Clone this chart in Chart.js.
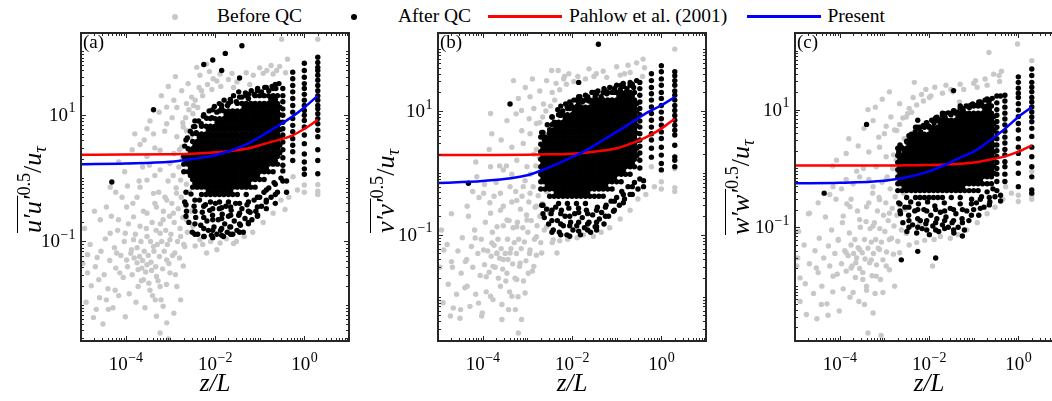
<!DOCTYPE html>
<html><head><meta charset="utf-8">
<script src="https://cdn.jsdelivr.net/npm/chart.js@4.4.1/dist/chart.umd.min.js"></script>
<style>
html,body{margin:0;padding:0;width:1052px;height:401px;overflow:hidden;background:#fff;}
.cv{position:absolute;top:0;}
.t{position:absolute;font-family:'Liberation Serif','Times New Roman',serif;color:#000;white-space:nowrap;line-height:1;}
.leg{font-size:19.5px;top:6px;}
.dot{position:absolute;width:6px;height:6px;border-radius:50%;}
.seg{position:absolute;height:3px;top:15px;width:74px;}
.pl{font-size:19px;top:32px;}
.yl{font-size:26px;font-style:italic;transform-origin:0 0;transform:rotate(-90deg);}
.yl .ov{text-decoration:overline;text-decoration-thickness:1.3px;}
.yl .sp{font-size:0.7em;font-style:normal;position:relative;top:-0.62em;}
.yl .sb{font-size:0.7em;position:relative;top:0.3em;}
.yl .n{font-style:normal;}
</style></head><body>
<div class="dot" style="left:171.5px;top:13.5px;background:#c8c8c8"></div>
<div class="t leg" style="left:217px">Before QC</div>
<div class="dot" style="left:350.7px;top:13.5px;background:#000"></div>
<div class="t leg" style="left:398px">After QC</div>
<div class="seg" style="left:488px;background:#ff0000"></div>
<div class="t leg" style="left:569px">Pahlow et al. (2001)</div>
<div class="seg" style="left:747px;background:#0000ff"></div>
<div class="t leg" style="left:827.5px">Present</div>

<canvas id="cA" class="cv"></canvas>
<canvas id="cB" class="cv"></canvas>
<canvas id="cC" class="cv"></canvas>

<div class="t pl" style="left:83px">(a)</div>
<div class="t pl" style="left:440px">(b)</div>
<div class="t pl" style="left:797px">(c)</div>

<div class="t yl" style="left:20px;top:233px"><span class="ov">u′u′</span><span class="sp">0.5</span><span class="n">/</span>u<span class="sb">τ</span></div>
<div class="t yl" style="left:373px;top:233px"><span class="ov">v′v′</span><span class="sp">0.5</span><span class="n">/</span>u<span class="sb">τ</span></div>
<div class="t yl" style="left:728px;top:235px"><span class="ov">w′w′</span><span class="sp">0.5</span><span class="n">/</span>u<span class="sb">τ</span></div>

<script>
// ---------- data ----------
const xTickVals = [1e-4, 1e-2, 1];
const yTickVals = [0.1, 10];

// model curves, sampled at these z/L values
const zL = [1e-5, 1e-4, 1e-3, 3e-3, 0.01, 0.02, 0.05, 0.1, 0.2, 0.5, 1, 2];
const pahlowA  = [2.34, 2.35, 2.38, 2.42, 2.55, 2.65, 2.9, 3.3, 3.8, 4.6, 6.0, 8.3];
const presentA = [1.66, 1.70, 1.81, 2.0, 2.3, 2.65, 3.4, 4.45, 6.0, 9.0, 13, 20];
const pahlowB  = [1.94, 1.95, 1.97, 2.0, 2.05, 2.12, 2.3, 2.5, 2.95, 3.9, 5.2, 7.5];
const presentB = [0.69, 0.74, 0.92, 1.22, 1.8, 2.3, 3.4, 4.6, 6.3, 9.6, 12.4, 16.8];
const pahlowC  = [1.12, 1.12, 1.12, 1.13, 1.14, 1.16, 1.2, 1.26, 1.38, 1.6, 1.93, 2.46];
const presentC = [0.56, 0.57, 0.62, 0.70, 0.89, 1.1, 1.53, 1.93, 2.75, 4.7, 7.5, 11];

// After QC: each row is [z/L, y1, y2, ...]
const afterQC_a = [
[2,81,67,56,50,42,35,29,24,20,17,14,12.4,10.4,8.7,7.2,5.7,4.5,2.8,1.9,1.17],
[1,65,50,39,31,26,21,17,14,11.7,9.8,8.1,6.4,4.8,3.5,2.4,1.8,1.4,1.15],
[0.55,47,37,29,23,18,14,11,8.7,6.8,5.4,4.2,3.3,2.6,1.9],
[0.33,26,20,16,12.4,9.8,7.6,6.0,4.8,3.7,2.8,2.1,1.6,1.3,0.9],
[0.002,1.26,1.66,2.2],
[0.00224,1.9],
[0.0025,1.26,1.66,2.2,2.9],
[0.00282,1.1,1.45,1.9,2.5],
[0.00316,0.72,0.95,1.26,1.66,2.2,2.9,3.8,5.0],
[0.00355,0.83,1.1,1.45,1.9,2.5,3.3],
[0.004,0.72,0.95,1.26,1.66,2.2,2.9,3.8,5.0],
[0.00447,0.83,1.1,1.45,1.9,2.5,3.3,4.4],
[0.005,0.55,0.72,0.95,1.26,1.66,2.2,2.9,3.8,5.0,6.6],
[0.00562,0.83,1.1,1.45,1.9,2.5,3.3,4.4],
[0.0063,0.55,0.72,0.95,1.26,1.66,2.2,2.9,3.8,5.0,6.6],
[0.00708,0.63,0.83,1.1,1.45,1.9,2.5,3.3,4.4,5.8],
[0.0079,0.42,0.55,0.72,0.95,1.26,1.66,2.2,2.9,3.8,5.0,6.6,8.7],
[0.0089,0.63,0.83,1.1,1.45,1.9,2.5,3.3,4.4,5.8],
[0.01,0.55,0.72,0.95,1.26,1.66,2.2,2.9,3.8,5.0,6.6,8.7],
[0.0112,0.63,0.83,1.1,1.45,1.9,2.5,3.3,4.4,5.8,7.6],
[0.0126,0.42,0.55,0.72,0.95,1.26,1.66,2.2,2.9,3.8,5.0,6.6,8.7,11.5],
[0.0141,0.63,0.83,1.1,1.45,1.9,2.5,3.3,4.4,5.8,7.6],
[0.0158,0.55,0.72,0.95,1.26,1.66,2.2,2.9,3.8,5.0,6.6,8.7,11.5],
[0.0178,0.63,0.83,1.1,1.45,1.9,2.5,3.3,4.4,5.8,7.6,10],
[0.02,0.42,0.55,0.72,0.95,1.26,1.66,2.2,2.9,3.8,5.0,6.6,8.7,11.5,15.1],
[0.0224,0.63,0.83,1.1,1.45,1.9,2.5,3.3,4.4,5.8,7.6,10],
[0.025,0.55,0.72,0.95,1.26,1.66,2.2,2.9,3.8,5.0,6.6,8.7,11.5],
[0.0282,0.83,1.1,1.45,1.9,2.5,3.3,4.4,5.8,7.6,10],
[0.0316,0.55,0.72,0.95,1.26,1.66,2.2,2.9,3.8,5.0,6.6,8.7,11.5,15.1],
[0.0355,0.83,1.1,1.45,1.9,2.5,3.3,4.4,5.8,7.6,10],
[0.04,0.72,0.95,1.26,1.66,2.2,2.9,3.8,5.0,6.6,8.7,11.5,15.1],
[0.0447,0.83,1.1,1.45,1.9,2.5,3.3,4.4,5.8,7.6,10,13.2],
[0.05,0.55,0.72,0.95,1.26,1.66,2.2,2.9,3.8,5.0,6.6,8.7,11.5,15.1,20],
[0.0562,0.83,1.1,1.45,1.9,2.5,3.3,4.4,5.8,7.6,10,13.2],
[0.063,0.72,0.95,1.26,1.66,2.2,2.9,3.8,5.0,6.6,8.7,11.5,15.1],
[0.0708,1.1,1.45,1.9,2.5,3.3,4.4,5.8,7.6,10,13.2],
[0.079,0.72,0.95,1.26,1.66,2.2,2.9,3.8,5.0,6.6,8.7,11.5,15.1,20],
[0.089,1.1,1.45,1.9,2.5,3.3,4.4,5.8,7.6,10,13.2],
[0.1,0.95,1.26,1.66,2.2,2.9,3.8,5.0,6.6,8.7,11.5,15.1,20],
[0.112,1.45,1.9,2.5,3.3,4.4,5.8,7.6,10,13.2],
[0.126,0.95,1.26,1.66,2.2,2.9,3.8,5.0,6.6,8.7,11.5,15.1,20],
[0.141,1.45,1.9,2.5,3.3,4.4,5.8,7.6,10,13.2],
[0.158,1.26,1.66,2.2,2.9,3.8,5.0,6.6,8.7,11.5,15.1,20],
[0.178,1.9,2.5,3.3,4.4,5.8,7.6,10,13.2,17.4],
[0.2,1.26,1.66,2.2,2.9,3.8,5.0,6.6,8.7,11.5,15.1,20,26],
[0.224,1.9,2.5,3.3,4.4,5.8,7.6,10,13.2,17.4],
[0.25,1.66,2.2,2.9,3.8,5.0,6.6,8.7,11.5,15.1,20],
[0.282,2.5,3.3,4.4,5.8,7.6,10,13.2],
[0.00224,0.6,0.38,0.25,4.0],
[0.00355,0.45,0.3,0.19,0.13,6.5,8],
[0.0056,0.36,0.24,0.16,0.12,10,62],
[0.0089,0.33,0.22,0.15,0.115,12,73],
[0.0141,0.34,0.23,0.16,0.125,14,50],
[0.0224,0.35,0.26,0.17,0.13,16],
[0.0355,0.4,0.28,0.19,0.14,19,38],
[0.056,0.42,0.3,0.2,21],
[0.089,0.5,0.35,0.25,24],
[0.141,0.65,0.45,0.33,27],
[0.224,0.8,0.55,0.4,30],
[0.4,0.9,0.6],
[0.04,123],[0.017,93],[4.2e-4,12],[4.9e-5,0.87],
[0.0021,0.42],[0.0023,0.3],[0.0026,0.2],[0.0029,0.56],[0.0031,0.14],[0.0034,0.36],[0.0037,0.24],[0.0041,0.13],[0.0045,0.45],[0.0048,0.18],[0.0052,0.29],[0.0057,0.12],[0.0061,0.38],[0.0066,0.21],[0.0071,0.15],[0.0076,0.31],[0.0083,0.125],[0.0088,0.26],[0.0095,0.17],[0.0102,0.4],[0.011,0.13],[0.0118,0.22],[0.0125,0.33],[0.0133,0.15],[0.0145,0.27],[0.0155,0.12],[0.0165,0.19],[0.0175,0.36],[0.0188,0.14],[0.02,0.25],[0.0215,0.17],[0.023,0.31],[0.025,0.13],[0.027,0.21],[0.029,0.4],[0.031,0.15],[0.034,0.26],[0.037,0.18],[0.04,0.33],[0.043,0.14],[0.047,0.23],[0.052,0.38],[0.056,0.19],[0.061,0.29],[0.067,0.22],[0.075,0.45],[0.082,0.3],[0.09,0.26],[0.1,0.5],[0.11,0.36],[0.125,0.6],[0.14,0.42],[0.16,0.7],[0.18,0.5],[0.21,0.85],[0.25,0.6],[0.3,1.0],
[0.0021,3.2],[0.0024,4.3],[0.0028,5.5],[0.0033,6.5],[0.0038,5.2],[0.0043,8],[0.0049,7.2],[0.0055,9.5],[0.0065,8.8],[0.0074,11.5],[0.0085,9],[0.0097,13.5],[0.011,11],[0.0125,15],[0.014,12.5],[0.016,17],[0.019,14],[0.022,17.5],[0.026,20],[0.03,16],[0.034,23],[0.04,19],[0.048,22],[0.056,18],[0.065,24],[0.075,21],[0.09,26],[0.11,23],[0.13,27],[0.16,24],[0.19,28],[0.23,26],[0.27,31]
];
const afterQC_b = [
[2,43,37,31,26,21,18,15,12.3,10.2,8.5,7.1,5.9,4.9,4.1,2.8,1.82,1.6,1.26],
[1,54,43,33,26,20,16,12.3,9.6,7.5,5.9,4.6,3.6,2.6,1.94,1.42,1.12],
[0.6,40,31,24,19,15,11.6,9.1,7.1,5.5,4.3,3.4,2.5,1.8],
[0.33,29,23,18,14,11,8.7,6.9,5.5,4.3,3.4,2.7,2.1,1.6,1.2,0.8],
[0.002,0.55,0.72,0.95,1.26,1.66,2.2,2.9,3.8],
[0.00224,0.83,1.1,1.45,1.9,2.5],
[0.0025,0.55,0.72,0.95,1.26,1.66,2.2,2.9,3.8],
[0.00282,0.63,0.83,1.1,1.45,1.9,2.5,3.3],
[0.00316,0.42,0.55,0.72,0.95,1.26,1.66,2.2,2.9,3.8,5.0],
[0.00355,0.63,0.83,1.1,1.45,1.9,2.5,3.3,4.4],
[0.004,0.42,0.55,0.72,0.95,1.26,1.66,2.2,2.9,3.8,5.0,6.6],
[0.00447,0.48,0.63,0.83,1.1,1.45,1.9,2.5,3.3,4.4,5.8],
[0.005,0.32,0.42,0.55,0.72,0.95,1.26,1.66,2.2,2.9,3.8,5.0,6.6,8.7],
[0.00562,0.48,0.63,0.83,1.1,1.45,1.9,2.5,3.3,4.4,5.8],
[0.0063,0.42,0.55,0.72,0.95,1.26,1.66,2.2,2.9,3.8,5.0,6.6,8.7],
[0.00708,0.48,0.63,0.83,1.1,1.45,1.9,2.5,3.3,4.4,5.8,7.6],
[0.0079,0.32,0.42,0.55,0.72,0.95,1.26,1.66,2.2,2.9,3.8,5.0,6.6,8.7,11.5],
[0.0089,0.48,0.63,0.83,1.1,1.45,1.9,2.5,3.3,4.4,5.8,7.6],
[0.01,0.42,0.55,0.72,0.95,1.26,1.66,2.2,2.9,3.8,5.0,6.6,8.7,11.5],
[0.0112,0.48,0.63,0.83,1.1,1.45,1.9,2.5,3.3,4.4,5.8,7.6,10],
[0.0126,0.32,0.42,0.55,0.72,0.95,1.26,1.66,2.2,2.9,3.8,5.0,6.6,8.7,11.5,15.1],
[0.0141,0.48,0.63,0.83,1.1,1.45,1.9,2.5,3.3,4.4,5.8,7.6,10],
[0.0158,0.42,0.55,0.72,0.95,1.26,1.66,2.2,2.9,3.8,5.0,6.6,8.7,11.5,15.1],
[0.0178,0.48,0.63,0.83,1.1,1.45,1.9,2.5,3.3,4.4,5.8,7.6,10],
[0.02,0.32,0.42,0.55,0.72,0.95,1.26,1.66,2.2,2.9,3.8,5.0,6.6,8.7,11.5,15.1],
[0.0224,0.48,0.63,0.83,1.1,1.45,1.9,2.5,3.3,4.4,5.8,7.6,10],
[0.025,0.42,0.55,0.72,0.95,1.26,1.66,2.2,2.9,3.8,5.0,6.6,8.7,11.5,15.1],
[0.0282,0.63,0.83,1.1,1.45,1.9,2.5,3.3,4.4,5.8,7.6,10,13.2],
[0.0316,0.42,0.55,0.72,0.95,1.26,1.66,2.2,2.9,3.8,5.0,6.6,8.7,11.5,15.1,20],
[0.0355,0.63,0.83,1.1,1.45,1.9,2.5,3.3,4.4,5.8,7.6,10,13.2],
[0.04,0.42,0.55,0.72,0.95,1.26,1.66,2.2,2.9,3.8,5.0,6.6,8.7,11.5,15.1],
[0.0447,0.63,0.83,1.1,1.45,1.9,2.5,3.3,4.4,5.8,7.6,10,13.2],
[0.05,0.42,0.55,0.72,0.95,1.26,1.66,2.2,2.9,3.8,5.0,6.6,8.7,11.5,15.1,20],
[0.0562,0.63,0.83,1.1,1.45,1.9,2.5,3.3,4.4,5.8,7.6,10,13.2],
[0.063,0.55,0.72,0.95,1.26,1.66,2.2,2.9,3.8,5.0,6.6,8.7,11.5,15.1,20],
[0.0708,0.83,1.1,1.45,1.9,2.5,3.3,4.4,5.8,7.6,10,13.2],
[0.079,0.55,0.72,0.95,1.26,1.66,2.2,2.9,3.8,5.0,6.6,8.7,11.5,15.1,20],
[0.089,0.83,1.1,1.45,1.9,2.5,3.3,4.4,5.8,7.6,10,13.2],
[0.1,0.72,0.95,1.26,1.66,2.2,2.9,3.8,5.0,6.6,8.7,11.5,15.1,20],
[0.112,1.1,1.45,1.9,2.5,3.3,4.4,5.8,7.6,10,13.2,17.4],
[0.126,0.72,0.95,1.26,1.66,2.2,2.9,3.8,5.0,6.6,8.7,11.5,15.1,20,26],
[0.141,1.1,1.45,1.9,2.5,3.3,4.4,5.8,7.6,10,13.2,17.4],
[0.158,0.95,1.26,1.66,2.2,2.9,3.8,5.0,6.6,8.7,11.5,15.1,20],
[0.178,1.45,1.9,2.5,3.3,4.4,5.8,7.6,10,13.2,17.4],
[0.2,0.95,1.26,1.66,2.2,2.9,3.8,5.0,6.6,8.7,11.5,15.1,20,26],
[0.224,1.45,1.9,2.5,3.3,4.4,5.8,7.6,10,13.2,17.4],
[0.25,1.26,1.66,2.2,2.9,3.8,5.0,6.6,8.7,11.5,15.1,20],
[0.282,1.9,2.5,3.3,4.4,5.8,7.6,10,13.2],
[0.00224,0.3,0.22,4.5],
[0.00355,0.25,0.17,0.11,6,8],
[0.0056,0.22,0.15,0.1,9,12],
[0.0089,0.2,0.14,0.095,11,14],
[0.0141,0.23,0.16,0.115,13.5,17,29],
[0.0224,0.22,0.15,0.12,17],
[0.0355,0.25,0.16,0.135,0.12,19],
[0.056,0.28,0.2,21],
[0.089,0.35,0.25,23],
[0.141,0.45,0.33,25],
[0.224,0.6,0.45,27],
[0.4,0.75,0.6],
[4.1e-4,13],[4.8e-5,0.68],[0.039,120],
[0.0021,0.3],[0.0024,0.19],[0.0027,0.26],[0.003,0.15],[0.0034,0.22],[0.0038,0.12],[0.0043,0.28],[0.0047,0.17],[0.0052,0.11],[0.0058,0.25],[0.0064,0.14],[0.007,0.2],[0.0077,0.1],[0.0085,0.27],[0.0093,0.16],[0.0105,0.12],[0.0115,0.22],[0.0128,0.14],[0.014,0.27],[0.0155,0.1],[0.017,0.19],[0.019,0.13],[0.021,0.25],[0.024,0.16],[0.026,0.11],[0.029,0.21],[0.033,0.135],[0.037,0.28],[0.041,0.18],[0.046,0.23],[0.052,0.15],[0.058,0.3],[0.066,0.2],[0.075,0.35],[0.085,0.24],[0.1,0.4],[0.115,0.3],[0.13,0.5],[0.15,0.38],[0.18,0.6],[0.2,0.45],[0.25,0.7],[0.3,0.55],
[0.0021,4.5],[0.0024,3.4],[0.0028,6],[0.0031,4.4],[0.0036,8],[0.0042,6.5],[0.0048,10.5],[0.0055,8.5],[0.0062,10],[0.0072,13],[0.008,11],[0.0095,12.5],[0.011,15],[0.013,12],[0.015,17],[0.017,14],[0.02,18],[0.024,14.5],[0.028,20],[0.033,17],[0.038,21],[0.045,17],[0.052,23],[0.06,19],[0.07,24],[0.085,20],[0.1,26],[0.12,22],[0.14,28],[0.17,23],[0.2,29],[0.24,24],[0.28,31]
];
const afterQC_c = [
[2,49,38,29,24,20,16,13.5,11.1,9.1,7.5,6.2,4.8,3.5,2.3,1.58,1.07,0.72,0.43,0.38],
[1,36,29,23,19,16,12.6,9.8,7.6,5.8,4.5,3.2,2.3,1.8,1.23,0.83,0.49],
[0.5,17.5,14,11,8.7,6.9,5.5,4.3,3.4,2.7,2.1,1.7,1.3,1.07,0.8,0.6],
[0.33,17,13,10,8,6.3,5,4,3.2,2.5,2,1.6,1.26,1,0.8,0.6,0.42],
[0.002,0.42,0.55,0.72,0.95,1.26,1.66,2.2],
[0.00224,0.63,0.83,1.1,1.45],
[0.0025,0.42,0.55,0.72,0.95,1.26,1.66,2.2],
[0.00282,0.48,0.63,0.83,1.1,1.45,1.9],
[0.00316,0.32,0.42,0.55,0.72,0.95,1.26,1.66,2.2,2.9],
[0.00355,0.48,0.63,0.83,1.1,1.45,1.9,2.5],
[0.004,0.42,0.55,0.72,0.95,1.26,1.66,2.2,2.9,3.8],
[0.00447,0.48,0.63,0.83,1.1,1.45,1.9,2.5,3.3],
[0.005,0.32,0.42,0.55,0.72,0.95,1.26,1.66,2.2,2.9,3.8,5.0],
[0.00562,0.48,0.63,0.83,1.1,1.45,1.9,2.5,3.3],
[0.0063,0.32,0.42,0.55,0.72,0.95,1.26,1.66,2.2,2.9,3.8,5.0],
[0.00708,0.48,0.63,0.83,1.1,1.45,1.9,2.5,3.3],
[0.0079,0.32,0.42,0.55,0.72,0.95,1.26,1.66,2.2,2.9,3.8,5.0],
[0.0089,0.48,0.63,0.83,1.1,1.45,1.9,2.5,3.3],
[0.01,0.32,0.42,0.55,0.72,0.95,1.26,1.66,2.2,2.9,3.8,5.0],
[0.0112,0.48,0.63,0.83,1.1,1.45,1.9,2.5,3.3,4.4],
[0.0126,0.32,0.42,0.55,0.72,0.95,1.26,1.66,2.2,2.9,3.8,5.0,6.6],
[0.0141,0.48,0.63,0.83,1.1,1.45,1.9,2.5,3.3,4.4],
[0.0158,0.32,0.42,0.55,0.72,0.95,1.26,1.66,2.2,2.9,3.8,5.0,6.6],
[0.0178,0.48,0.63,0.83,1.1,1.45,1.9,2.5,3.3,4.4,5.8],
[0.02,0.32,0.42,0.55,0.72,0.95,1.26,1.66,2.2,2.9,3.8,5.0,6.6,8.7],
[0.0224,0.48,0.63,0.83,1.1,1.45,1.9,2.5,3.3,4.4,5.8],
[0.025,0.42,0.55,0.72,0.95,1.26,1.66,2.2,2.9,3.8,5.0,6.6],
[0.0282,0.48,0.63,0.83,1.1,1.45,1.9,2.5,3.3,4.4,5.8],
[0.0316,0.32,0.42,0.55,0.72,0.95,1.26,1.66,2.2,2.9,3.8,5.0,6.6,8.7],
[0.0355,0.48,0.63,0.83,1.1,1.45,1.9,2.5,3.3,4.4,5.8],
[0.04,0.42,0.55,0.72,0.95,1.26,1.66,2.2,2.9,3.8,5.0,6.6,8.7],
[0.0447,0.48,0.63,0.83,1.1,1.45,1.9,2.5,3.3,4.4,5.8,7.6],
[0.05,0.32,0.42,0.55,0.72,0.95,1.26,1.66,2.2,2.9,3.8,5.0,6.6,8.7,11.5],
[0.0562,0.48,0.63,0.83,1.1,1.45,1.9,2.5,3.3,4.4,5.8,7.6],
[0.063,0.42,0.55,0.72,0.95,1.26,1.66,2.2,2.9,3.8,5.0,6.6,8.7],
[0.0708,0.63,0.83,1.1,1.45,1.9,2.5,3.3,4.4,5.8,7.6],
[0.079,0.42,0.55,0.72,0.95,1.26,1.66,2.2,2.9,3.8,5.0,6.6,8.7,11.5],
[0.089,0.63,0.83,1.1,1.45,1.9,2.5,3.3,4.4,5.8,7.6],
[0.1,0.42,0.55,0.72,0.95,1.26,1.66,2.2,2.9,3.8,5.0,6.6,8.7,11.5],
[0.112,0.63,0.83,1.1,1.45,1.9,2.5,3.3,4.4,5.8,7.6],
[0.126,0.42,0.55,0.72,0.95,1.26,1.66,2.2,2.9,3.8,5.0,6.6,8.7,11.5],
[0.141,0.63,0.83,1.1,1.45,1.9,2.5,3.3,4.4,5.8,7.6],
[0.158,0.55,0.72,0.95,1.26,1.66,2.2,2.9,3.8,5.0,6.6,8.7,11.5],
[0.178,0.83,1.1,1.45,1.9,2.5,3.3,4.4,5.8,7.6,10],
[0.2,0.55,0.72,0.95,1.26,1.66,2.2,2.9,3.8,5.0,6.6,8.7,11.5,15.1],
[0.224,0.83,1.1,1.45,1.9,2.5,3.3,4.4,5.8,7.6,10],
[0.25,0.55,0.72,0.95,1.26,1.66,2.2,2.9,3.8,5.0,6.6,8.7,11.5],
[0.282,0.83,1.1,1.45,1.9,2.5,3.3,4.4,5.8,7.6],
[0.00224,0.25,0.19,2.5],
[0.00355,0.22,0.13,0.1,3.6],
[0.0056,0.2,0.14,0.1,0.039,5,6.6],
[0.0089,0.19,0.13,0.09,6],
[0.0141,0.2,0.12,0.09,0.03,7.2],
[0.0224,0.19,0.13,0.095,8.5],
[0.0355,0.2,0.13,0.09,9.5,21],
[0.056,0.2,0.12,0.071,10.5],
[0.089,0.25,0.16,12],
[0.141,0.3,0.21,13.5],
[0.224,0.32,0.24,14.5],
[0.4,0.35,0.28,17],
[4.0e-4,5.6],[4.5e-5,0.38],[0.0024,0.028],
[0.0021,0.26],[0.0023,0.17],[0.0026,0.12],[0.0029,0.22],[0.0032,0.085],[0.0035,0.16],[0.0039,0.27],[0.0043,0.11],[0.0048,0.19],[0.0053,0.08],[0.0058,0.25],[0.0064,0.13],[0.007,0.095],[0.0077,0.2],[0.0085,0.115],[0.0093,0.27],[0.0102,0.075],[0.011,0.16],[0.0122,0.105],[0.0135,0.23],[0.015,0.14],[0.0165,0.085],[0.018,0.18],[0.02,0.11],[0.022,0.26],[0.024,0.15],[0.027,0.1],[0.03,0.21],[0.033,0.12],[0.036,0.08],[0.04,0.17],[0.045,0.1],[0.05,0.25],[0.055,0.14],[0.062,0.09],[0.07,0.19],[0.078,0.13],[0.09,0.3],[0.1,0.2],[0.115,0.26],[0.13,0.16],[0.15,0.33],[0.17,0.22],[0.2,0.4],[0.23,0.27],[0.27,0.45],[0.3,0.33],
[0.0021,1.9],[0.0024,2.3],[0.0028,2.1],[0.0032,2.8],[0.0037,3.4],[0.0042,3.2],[0.0049,4.2],[0.0056,4.8],[0.0065,4.2],[0.0075,5.4],[0.0087,5.9],[0.01,5.2],[0.0115,6.6],[0.013,6],[0.015,7.4],[0.017,6.8],[0.02,8],[0.023,7.3],[0.027,8.8],[0.031,8.2],[0.036,9.6],[0.042,9],[0.05,10.5],[0.058,9.8],[0.068,11.5],[0.08,10.8],[0.095,12.5],[0.11,11.8],[0.13,13.5],[0.15,12.5],[0.18,14.5],[0.22,13.5],[0.26,15.5]
];

// Before QC: [z/L, y] pairs (points visible around the After-QC cloud)
const beforeQC_a = [
[1.4e-5,0.062],[2.3e-5,0.056],[1.4e-5,0.032],[2.5e-5,0.025],[2.2e-5,0.0085],[1.9e-5,0.0063],[3.7e-5,0.012],[4.1e-5,0.0085],[5.8e-5,0.017],[7.4e-5,0.032],[6.3e-5,0.066],[1.05e-4,0.051],[1.35e-4,0.074],[1.8e-4,0.046],[2.3e-4,0.038],[3.0e-4,0.043],[3.8e-4,0.035],[4.9e-4,0.028],[2.5e-4,0.025],[1.9e-4,0.0195],[3.5e-4,0.017],[5.9e-4,0.0195],[4.6e-4,0.012],[6.9e-4,0.0095],[4.9e-4,0.0066],[8.3e-4,0.0052],[5.9e-4,0.0036],[9.1e-4,0.0029],[1.2e-3,0.0074],[1.7e-3,0.012],[1.4e-3,0.0195],[9.8e-4,0.032],[8.3e-4,0.051],[1.26e-3,0.066],[1.95e-3,0.041],[2.1e-3,0.083],[1.7e-3,0.12],[9.8e-4,0.107],[5.9e-4,0.135],[4.2e-4,0.083],[3.0e-4,0.12],[2.1e-4,0.174],[1.5e-4,0.107],[9.8e-5,0.135],[6.9e-5,0.22],[4.5e-5,0.135],[2.7e-5,0.22],[1.05e-4,0.35],[1.5e-4,0.245],[3.0e-4,0.28],[4.9e-4,0.35],[6.9e-4,0.22],[1.17e-3,0.28],[8.3e-4,0.45],[1.38e-3,0.575],[4.2e-4,0.575],[2.1e-4,0.72],[9.5e-5,1.26],[4.5e-5,0.72],[3.0e-4,0.93],[5.9e-4,1.35],[9.8e-4,1.7],[1.7e-3,0.93],[1.2e-3,2.45],[5.9e-4,2.75],[3.0e-4,2.2],[2.1e-4,3.4],[4.2e-4,5.0],[3.0e-4,6.0],[8.3e-4,7.2],[1.4e-3,4.5],[1.95e-3,6.4],[8.3e-4,13.2],[1.2e-3,17],[1.8e-3,24],[2.5e-3,31],[3.9e-3,56],[4.6e-3,42],[6.5e-3,63],[2.3e-3,15],[3.2e-3,10.4],[3.0e-3,19],[5.0e-3,24],[9.1e-3,37],[1.3e-2,44],[2.6e-2,27],[7.2e-2,42],[0.145,50],[0.24,50],[0.31,155],[2,155],[2,0.79],[1,0.78],[0.56,1.05],[0.37,0.32],[0.026,0.093],[0.011,0.074],[6.5e-3,0.066],[4.6e-3,0.107],[3.2e-3,0.174],[2.3e-3,0.22],[3.7e-5,0.35],[2.3e-3,5.6],[1.8e-3,3.1],
[1.1e-5,0.045],[1.2e-5,0.16],[1.3e-5,0.011],[1.6e-5,0.09],[1.7e-5,0.02],[2.0e-5,0.3],[2.1e-5,0.04],[2.6e-5,0.013],[2.8e-5,0.07],[3.1e-5,0.005],
[3.3e-5,0.03],[3.5e-5,0.11],[4.0e-5,0.018],[4.4e-5,0.05],[4.8e-5,0.25],[5.2e-5,0.009],[5.6e-5,0.08],[6.0e-5,0.038],[6.6e-5,0.15],[7.0e-5,0.014],[7.8e-5,0.06],[8.3e-5,0.5],[8.8e-5,0.027],[9.3e-5,0.1],[9.8e-5,0.0065],
[1.1e-4,0.04],[1.15e-4,0.19],[1.2e-4,0.015],[1.3e-4,0.065],[1.4e-4,0.03],[1.45e-4,0.4],[1.55e-4,0.055],[1.65e-4,0.13],[1.7e-4,0.011],[1.8e-4,0.08],[1.9e-4,0.036],[2.0e-4,0.9],[2.05e-4,0.058],[2.2e-4,0.1],[2.25e-4,0.024],[2.4e-4,0.05],[2.5e-4,0.3],[2.6e-4,0.07],[2.7e-4,0.009],[2.8e-4,0.033],[2.9e-4,0.16],
[3.2e-4,0.06],[3.3e-4,0.022],[3.4e-4,1.6],[3.6e-4,0.1],[3.7e-4,0.047],[3.9e-4,0.2],[4.0e-4,0.014],[4.3e-4,0.07],[4.5e-4,0.4],[4.7e-4,0.04],[4.8e-4,0.15],[5.1e-4,0.09],[5.3e-4,0.024],[5.5e-4,0.6],[5.7e-4,0.058],[6.0e-4,0.19],[6.2e-4,0.012],[6.4e-4,0.1],[6.7e-4,0.037],[7.0e-4,0.3],[7.3e-4,0.07],[7.6e-4,0.5],[7.9e-4,0.15],[8.2e-4,0.021],[8.6e-4,0.09],[8.9e-4,0.9],[9.3e-4,0.045],[9.6e-4,0.25],
[1.03e-3,0.13],[1.08e-3,0.4],[1.12e-3,0.06],[1.16e-3,1.1],[1.22e-3,0.2],[1.3e-3,0.03],[1.35e-3,0.7],[1.45e-3,0.1],[1.5e-3,0.33],[1.55e-3,1.5],[1.6e-3,0.055],[1.65e-3,0.16],[1.75e-3,0.5],[1.85e-3,2.1],[1.9e-3,0.24],[2.0e-3,0.09],[2.05e-3,1.3],[2.2e-3,0.37],[2.3e-3,0.8],[2.4e-3,0.14],[2.6e-3,2.8],[2.7e-3,0.6],[2.9e-3,0.3],
[1.9e-3,7.5],[2.2e-3,9],[2.6e-3,12],[2.8e-3,4.5],[3.3e-3,14],[3.6e-3,17],[4.1e-3,13],[4.4e-3,27],[5.3e-3,20],[6.8e-3,30],[7.5e-3,48],[8.5e-3,25],[0.011,34],[0.0135,28],[0.02,36],[0.024,45],[0.031,33],[0.05,46],[0.06,30],[0.1,55],[0.12,45],[0.18,60],[0.2,44],[0.28,58],[0.42,75],[0.38,46],
[3.6e-3,0.085],[5.3e-3,0.09],[8e-3,0.1],[0.013,0.095],[0.018,0.11],[0.03,0.1],[0.045,0.12],[0.07,0.14],[0.12,0.2],[0.2,0.28],[0.3,0.45],[0.45,0.5],[0.7,0.65],[1,0.6],[2,0.55],[2,0.62],
[1.4e-4,2.8],[1.6e-4,5],[2.6e-4,4],[3.5e-4,8],[4.5e-4,3],[5.6e-4,11],[6.3e-4,20],[7.5e-4,5.5],[9e-4,28],[1.1e-3,9],[1.3e-3,40],[1.4e-3,13],[1.6e-3,2.8],[1.1e-4,0.75],[6e-5,0.6],[7e-5,1.8],[4.5e-4,1.1],[2.4e-4,1.5],[1.8e-4,0.5]
];
const beforeQC_b = [
[1.35e-5,0.057],[2.0e-5,0.037],[1.9e-5,0.0049],[2.2e-5,0.0066],[4.1e-5,0.037],[4.5e-5,0.0148],[6.8e-5,0.089],[8.1e-5,0.0079],[9.5e-5,0.0049],[1.05e-4,0.057],[1.2e-4,0.021],[1.6e-4,0.074],[1.7e-4,0.031],[2.1e-4,0.051],[2.5e-4,0.0148],[2.9e-4,0.040],[3.5e-4,0.024],[4.1e-4,0.051],[4.5e-4,0.0102],[5.4e-4,0.0062],[5.8e-4,0.019],[6.9e-4,0.035],[7.4e-4,0.0043],[6.3e-4,0.0026],[8.9e-4,0.0115],[1.05e-3,0.024],[1.15e-3,0.057],[1.4e-3,0.031],[1.6e-3,0.093],[2.1e-3,0.051],[2.7e-3,0.135],[3.8e-3,0.083],[4.6e-3,0.051],[3.2e-3,0.224],[1.6e-3,0.29],[9.8e-4,0.174],[5.8e-4,0.135],[3.5e-4,0.174],[2.1e-4,0.135],[1.5e-4,0.224],[2.9e-4,0.29],[5.8e-4,0.36],[1.15e-3,0.47],[8.1e-4,0.6],[4.1e-4,0.6],[2.5e-4,0.47],[1.05e-4,0.47],[7.4e-5,0.87],[1.5e-4,1.26],[2.9e-4,1.12],[5.8e-4,1.6],[9.8e-4,1.26],[1.4e-3,2.0],[8.1e-4,3.0],[1.15e-3,4.3],[1.6e-3,6.3],[7.4e-4,10.2],[1.5e-4,9.1],[4.9e-4,31],[1.15e-3,17],[1.9e-3,21],[2.7e-3,31],[3.5e-3,45],[4.9e-3,45],[6.5e-3,33],[2.3e-3,13],[0.035,40],[0.083,24],[0.15,40],[0.39,69],[2,100],[1,0.72],[2,1.17],[0.6,1.26],[2.3e-3,0.87],[3.2e-5,0.0062],[2.7e-4,0.0043],[3.8e-4,0.0062],[1.5e-4,0.0102],[4.5e-5,0.29],
[1.1e-5,0.03],[1.2e-5,0.12],[1.3e-5,0.008],[1.6e-5,0.07],[1.7e-5,0.016],[2.0e-5,0.22],[2.1e-5,0.03],[2.6e-5,0.011],[2.8e-5,0.055],[3.1e-5,0.0045],
[3.3e-5,0.024],[3.5e-5,0.09],[4.0e-5,0.014],[4.4e-5,0.04],[4.8e-5,0.2],[5.2e-5,0.007],[5.6e-5,0.065],[6.0e-5,0.03],[6.6e-5,0.12],[7.0e-5,0.011],[7.8e-5,0.05],[8.3e-5,0.4],[8.8e-5,0.022],[9.3e-5,0.085],[9.8e-5,0.0055],
[1.1e-4,0.033],[1.15e-4,0.16],[1.2e-4,0.012],[1.3e-4,0.055],[1.4e-4,0.025],[1.45e-4,0.33],[1.55e-4,0.045],[1.65e-4,0.11],[1.7e-4,0.009],[1.8e-4,0.068],[1.9e-4,0.03],[2.0e-4,0.7],[2.05e-4,0.05],[2.2e-4,0.085],[2.25e-4,0.02],[2.4e-4,0.042],[2.5e-4,0.25],[2.6e-4,0.06],[2.7e-4,0.0075],[2.8e-4,0.028],[2.9e-4,0.14],
[3.2e-4,0.05],[3.3e-4,0.018],[3.4e-4,1.3],[3.6e-4,0.085],[3.7e-4,0.04],[3.9e-4,0.17],[4.0e-4,0.012],[4.3e-4,0.06],[4.5e-4,0.34],[4.7e-4,0.034],[4.8e-4,0.13],[5.1e-4,0.075],[5.3e-4,0.02],[5.5e-4,0.5],[5.7e-4,0.05],[6.0e-4,0.16],[6.2e-4,0.01],[6.4e-4,0.085],[6.7e-4,0.031],[7.0e-4,0.26],[7.3e-4,0.06],[7.6e-4,0.42],[7.9e-4,0.13],[8.2e-4,0.018],[8.6e-4,0.077],[8.9e-4,0.75],[9.3e-4,0.038],[9.6e-4,0.21],
[1.03e-3,0.11],[1.08e-3,0.34],[1.12e-3,0.05],[1.16e-3,0.95],[1.22e-3,0.17],[1.3e-3,0.026],[1.35e-3,0.6],[1.45e-3,0.085],[1.5e-3,0.28],[1.55e-3,1.3],[1.6e-3,0.047],[1.65e-3,0.14],[1.75e-3,0.43],[1.85e-3,1.8],[1.9e-3,0.2],[2.0e-3,0.075],[2.05e-3,1.1],[2.2e-3,0.32],[2.3e-3,0.7],[2.4e-3,0.12],[2.6e-3,2.4],[2.7e-3,0.5],[2.9e-3,0.26],
[1.9e-3,6.5],[2.2e-3,8],[2.6e-3,10],[2.8e-3,4],[3.3e-3,12],[3.6e-3,20],[4.1e-3,15],[4.4e-3,28],[5.3e-3,22],[6.8e-3,36],[7.5e-3,27],[8.5e-3,40],[0.011,30],[0.0135,36],[0.02,33],[0.024,48],[0.031,36],[0.05,44],[0.06,35],[0.1,52],[0.12,38],[0.18,55],[0.2,42],[0.28,60],[0.42,50],[0.38,36],
[3.6e-3,0.075],[5.3e-3,0.08],[8e-3,0.085],[0.013,0.09],[0.018,0.1],[0.03,0.095],[0.045,0.11],[0.07,0.13],[0.12,0.18],[0.2,0.25],[0.3,0.38],[0.45,0.45],[0.7,0.6],[1,0.55],[2,0.5],[2,0.58],
[1.4e-4,2.4],[1.6e-4,4.3],[2.6e-4,3.4],[3.5e-4,7],[4.5e-4,2.6],[5.6e-4,9],[6.3e-4,16],[7.5e-4,4.8],[9e-4,24],[1.1e-3,7.5],[1.3e-3,33],[1.4e-3,11],[1.6e-3,2.4],[1.1e-4,0.65],[6e-5,0.5],[7e-5,1.5],[4.5e-4,0.95],[2.4e-4,1.3],[1.8e-4,0.42]
];
const beforeQC_c = [
[1.15e-5,0.030],[1.3e-5,0.0138],[1.8e-5,0.0033],[3.0e-5,0.0204],[3.9e-5,0.0049],[5.5e-5,0.0032],[7.1e-5,0.0148],[9.3e-5,0.062],[1.2e-4,0.155],[1.4e-4,0.037],[1.8e-4,0.0204],[2.0e-4,0.0078],[2.3e-4,0.025],[2.8e-4,0.042],[3.3e-4,0.017],[3.6e-4,0.0049],[4.0e-4,0.010],[4.3e-4,0.0016],[5.1e-4,0.028],[5.6e-4,0.0035],[6.6e-4,0.0148],[7.8e-4,0.042],[8.5e-4,0.00145],[9.3e-4,0.0078],[1.1e-3,0.022],[1.3e-3,0.062],[1.7e-3,0.010],[2.2e-3,0.037],[3.1e-3,0.079],[6.2e-3,0.117],[0.012,0.022],[5.6e-4,0.105],[2.8e-4,0.135],[1.7e-4,0.224],[4.0e-4,0.224],[7.8e-4,0.295],[1.3e-3,0.174],[5.6e-4,0.49],[1.1e-3,0.65],[6.6e-4,1.07],[2.8e-4,0.72],[1.4e-4,0.65],[7.1e-5,0.49],[3.3e-5,0.26],[2.1e-5,0.174],[1.1e-3,1.58],[1.55e-3,1.07],[7.8e-4,2.3],[4.3e-4,10],[1.0e-3,3.9],[1.7e-3,4.5],[3.1e-3,7.5],[4.7e-3,29],[2.2e-3,12.6],[0.0102,16],[0.034,20],[0.048,13.5],[0.22,93],[0.96,130],[2,68],[2,0.89],[1,0.275],[0.52,0.49],[0.11,31],[0.37,38],[3.1e-3,1.07],[8.5e-5,1.38],
[1.1e-5,0.022],[1.2e-5,0.085],[1.3e-5,0.0055],[1.6e-5,0.05],[1.7e-5,0.011],[2.0e-5,0.17],[2.1e-5,0.024],[2.6e-5,0.0075],[2.8e-5,0.04],[3.1e-5,0.0028],
[3.3e-5,0.017],[3.5e-5,0.065],[4.0e-5,0.01],[4.4e-5,0.03],[4.8e-5,0.15],[5.2e-5,0.005],[5.6e-5,0.048],[6.0e-5,0.022],[6.6e-5,0.09],[7.0e-5,0.008],[7.8e-5,0.036],[8.3e-5,0.3],[8.8e-5,0.016],[9.3e-5,0.06],[9.8e-5,0.0038],
[1.1e-4,0.024],[1.15e-4,0.12],[1.2e-4,0.009],[1.3e-4,0.04],[1.4e-4,0.018],[1.45e-4,0.25],[1.55e-4,0.033],[1.65e-4,0.08],[1.7e-4,0.0065],[1.8e-4,0.05],[1.9e-4,0.022],[2.0e-4,0.55],[2.05e-4,0.036],[2.2e-4,0.062],[2.25e-4,0.014],[2.4e-4,0.03],[2.5e-4,0.19],[2.6e-4,0.045],[2.7e-4,0.0055],[2.8e-4,0.02],[2.9e-4,0.1],
[3.2e-4,0.037],[3.3e-4,0.013],[3.4e-4,1.0],[3.6e-4,0.062],[3.7e-4,0.029],[3.9e-4,0.125],[4.0e-4,0.0085],[4.3e-4,0.044],[4.5e-4,0.26],[4.7e-4,0.025],[4.8e-4,0.095],[5.1e-4,0.056],[5.3e-4,0.015],[5.5e-4,0.38],[5.7e-4,0.036],[6.0e-4,0.12],[6.2e-4,0.0075],[6.4e-4,0.062],[6.7e-4,0.023],[7.0e-4,0.19],[7.3e-4,0.044],[7.6e-4,0.32],[7.9e-4,0.095],[8.2e-4,0.013],[8.6e-4,0.056],[8.9e-4,0.58],[9.3e-4,0.028],[9.6e-4,0.16],
[1.03e-3,0.085],[1.08e-3,0.26],[1.12e-3,0.038],[1.16e-3,0.72],[1.22e-3,0.13],[1.3e-3,0.019],[1.35e-3,0.45],[1.45e-3,0.065],[1.5e-3,0.21],[1.55e-3,1.0],[1.6e-3,0.035],[1.65e-3,0.105],[1.75e-3,0.33],[1.85e-3,1.4],[1.9e-3,0.16],[2.0e-3,0.058],[2.05e-3,0.85],[2.2e-3,0.24],[2.3e-3,0.52],[2.4e-3,0.09],[2.6e-3,1.8],[2.7e-3,0.38],[2.9e-3,0.2],
[1.9e-3,4.4],[2.2e-3,5.6],[2.6e-3,7.2],[2.8e-3,3.2],[3.3e-3,8.5],[3.6e-3,10.5],[4.1e-3,9],[4.4e-3,16],[5.3e-3,12],[6.8e-3,18],[7.5e-3,14],[8.5e-3,22],[0.011,17],[0.0135,24],[0.02,19],[0.024,26],[0.031,22],[0.05,27],[0.06,22],[0.1,28],[0.12,24],[0.18,33],[0.2,26],[0.28,40],[0.42,45],[0.38,30],
[3.6e-3,0.05],[5.3e-3,0.055],[8e-3,0.06],[0.013,0.062],[0.018,0.07],[0.03,0.065],[0.045,0.075],[0.07,0.09],[0.12,0.12],[0.2,0.17],[0.3,0.22],[0.45,0.3],[0.7,0.38],[1,0.35],[2,0.3],[2,0.34],
[1.4e-4,1.8],[1.6e-4,3.2],[2.6e-4,2.4],[3.5e-4,4.8],[4.5e-4,1.9],[5.6e-4,6.5],[6.3e-4,11],[7.5e-4,3.4],[9e-4,15],[1.1e-3,5.2],[1.3e-3,20],[1.4e-3,7.5],[1.6e-3,1.7],[1.1e-4,0.45],[6e-5,0.36],[7e-5,1.1],[4.5e-4,0.65],[2.4e-4,0.9],[1.8e-4,0.3]
];

// ---------- drawing ----------
const FONT = "'Liberation Serif','Times New Roman',serif";
const colsToPts = cols => cols.flatMap(c => c.slice(1).map(y => ({x: c[0], y})));
const pairsToPts = pr => pr.map(p => ({x: p[0], y: p[1]}));
const curve = ys => zL.map((x, i) => ({x, y: ys[i]}));

function drawPow(ctx, v, px, baseY, align) {
  const e = String(Math.round(Math.log10(v))).replace('-', '\u2212');
  ctx.font = '19px ' + FONT;
  const w1 = ctx.measureText('10').width;
  ctx.font = '14px ' + FONT;
  const w2 = ctx.measureText(e).width;
  const left = align === 'center' ? px - (w1 + w2) / 2 : px - (w1 + w2);
  ctx.fillStyle = '#000';
  ctx.textAlign = 'left';
  ctx.textBaseline = 'alphabetic';
  ctx.font = '19px ' + FONT;
  ctx.fillText('10', left, baseY);
  ctx.font = '14px ' + FONT;
  ctx.fillText(e, left + w1 + 0.5, baseY - 8.5);
}

const frameTicks = {
  id: 'frameTicks',
  afterDraw(chart) {
    const {ctx, chartArea: a, scales: {x, y}} = chart;
    ctx.save();
    ctx.strokeStyle = '#262626';
    ctx.lineWidth = 1;
    ctx.beginPath();
    for (let e = -7; e <= 3; e++) {
      for (let m = 1; m <= 9; m++) {
        const v = m * Math.pow(10, e);
        if (v >= x.min && v <= x.max) {
          const px = Math.round(x.getPixelForValue(v)) + 0.5;
          const L = xTickVals.some(t => Math.abs(t - v) / t < 1e-9) ? 5 : 3;
          ctx.moveTo(px, a.bottom); ctx.lineTo(px, a.bottom - L);
          ctx.moveTo(px, a.top); ctx.lineTo(px, a.top + L);
        }
        if (v >= y.min && v <= y.max) {
          const py = Math.round(y.getPixelForValue(v)) + 0.5;
          const L = yTickVals.some(t => Math.abs(t - v) / t < 1e-9) ? 5 : 3;
          ctx.moveTo(a.left, py); ctx.lineTo(a.left + L, py);
          ctx.moveTo(a.right, py); ctx.lineTo(a.right - L, py);
        }
      }
    }
    ctx.stroke();
    ctx.lineWidth = 2;
    ctx.strokeRect(a.left, a.top, a.right - a.left, a.bottom - a.top);
    xTickVals.forEach(v => drawPow(ctx, v, x.getPixelForValue(v), a.bottom + 29, 'center'));
    yTickVals.forEach(v => drawPow(ctx, v, a.left - 6, y.getPixelForValue(v) + 6, 'right'));
    ctx.restore();
  }
};

const panels = [
  {id: 'cA', left: 81,  right: 349,  yMin: 0.00269, yMax: 195, after: afterQC_a, before: beforeQC_a, pahlow: pahlowA, present: presentA},
  {id: 'cB', left: 438, right: 706,  yMin: 0.00193, yMax: 182, after: afterQC_b, before: beforeQC_b, pahlow: pahlowB, present: presentB},
  {id: 'cC', left: 795, right: 1063, yMin: 0.00117, yMax: 200, after: afterQC_c, before: beforeQC_c, pahlow: pahlowC, present: presentC}
];
const TOP = 33, BOTTOM = 341, H = 401, YW = 80, RP = 20;

panels.forEach(p => {
  const el = document.getElementById(p.id);
  const W = (p.right - p.left) + YW + RP;
  el.width = W; el.height = H;
  el.style.left = (p.left - YW) + 'px';
  el.style.width = W + 'px'; el.style.height = H + 'px';
  new Chart(el, {
    type: 'scatter',
    data: {
      datasets: [
        {label: 'Present', data: curve(p.present), showLine: true, borderColor: '#0000ff', borderWidth: 2.5, pointRadius: 0, cubicInterpolationMode: 'monotone', clip: 0},
        {label: 'Pahlow et al. (2001)', data: curve(p.pahlow), showLine: true, borderColor: '#ff0000', borderWidth: 2.5, pointRadius: 0, cubicInterpolationMode: 'monotone', clip: 0},
        {label: 'After QC', data: colsToPts(p.after), backgroundColor: '#000000', borderWidth: 0, pointRadius: 2.7, clip: 0},
        {label: 'Before QC', data: pairsToPts(p.before), backgroundColor: '#c8c8c8', borderWidth: 0, pointRadius: 2.7, clip: 0}
      ]
    },
    options: {
      responsive: false, animation: false, devicePixelRatio: 1,
      events: [],
      layout: {padding: {top: TOP, right: RP, bottom: 0, left: 0}},
      plugins: {legend: {display: false}, tooltip: {enabled: false}},
      scales: {
        x: {
          type: 'logarithmic', min: 1e-5, max: 10, bounds: 'data', position: 'bottom',
          afterFit: s => { s.height = H - BOTTOM; },
          afterBuildTicks: s => { s.ticks = xTickVals.map(v => ({value: v, major: true})); },
          grid: {display: false, drawTicks: false}, border: {display: false},
          ticks: {display: false},
          title: {display: true, text: 'z/L', color: '#000', font: {family: FONT, size: 25, style: 'italic'}, padding: {top: 0, bottom: 2}}
        },
        y: {
          type: 'logarithmic', min: p.yMin, max: p.yMax, bounds: 'data', position: 'left',
          afterFit: s => { s.width = YW; },
          afterBuildTicks: s => { s.ticks = yTickVals.map(v => ({value: v, major: true})); },
          grid: {display: false, drawTicks: false}, border: {display: false},
          ticks: {display: false}
        }
      }
    },
    plugins: [frameTicks]
  });
});
</script>
</body></html>
